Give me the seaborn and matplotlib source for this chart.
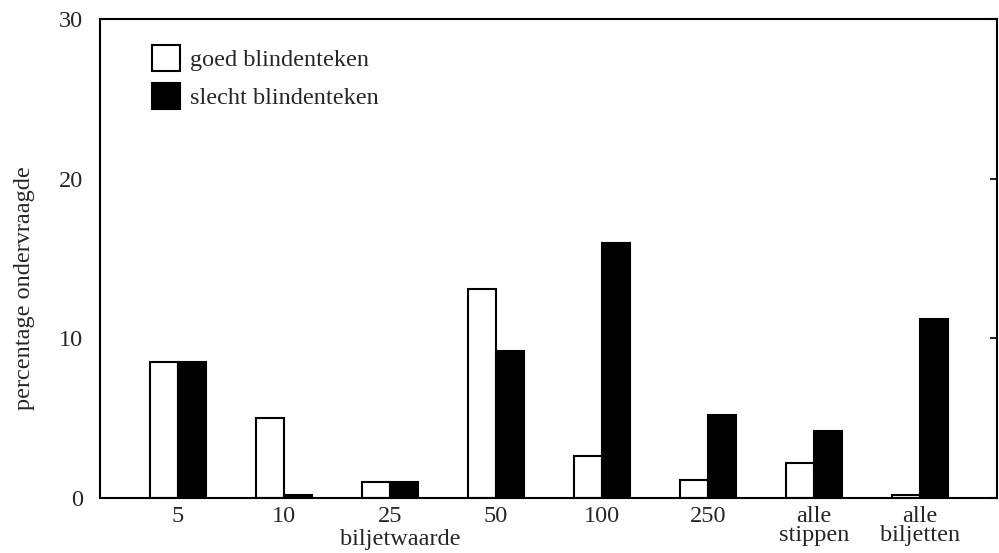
import matplotlib
matplotlib.use('Agg')
import matplotlib.pyplot as plt
import seaborn as sns
import pandas as pd

# values (percentage ondervraagde)
categories = ['5', '10', '25', '50', '100', '250', 'alle\nstippen', 'alle\nbiljetten']
goed = [8.5, 5.0, 1.0, 13.1, 2.6, 1.1, 2.2, 0.2]
slecht = [8.5, 0.2, 1.0, 9.2, 16.0, 5.2, 4.2, 11.2]
series = ['goed blindenteken', 'slecht blindenteken']
y_ticks = [0, 10, 20, 30]

df = pd.DataFrame({
    'waarde': categories * 2,
    'pct': goed + slecht,
    'teken': [series[0]] * len(categories) + [series[1]] * len(categories),
})

sns.set_style('white')
plt.rcParams['font.family'] = ['Liberation Serif', 'DejaVu Serif']
fs = 17.5

fig = plt.figure(figsize=(9.99, 5.53), dpi=100)
ax = fig.add_axes([0.1001, 0.0995, 0.8977, 0.8661])

sns.barplot(data=df, x='waarde', y='pct', hue='teken', order=categories,
            hue_order=series, palette=['white', 'black'], saturation=1,
            edgecolor='black', linewidth=1.5, width=0.53, ax=ax)

ax.set_xlim(-0.736, 7.726)
ax.set_ylim(0, 30)
ax.set_yticks(y_ticks)
ax.tick_params(axis='y', direction='in', length=5, width=1.5, right=True,
               pad=12, labelsize=fs)
ax.tick_params(axis='x', length=0, pad=6, labelsize=fs)
for lbl in ax.get_xticklabels():
    lbl.set_linespacing(0.85)

for sp in ax.spines.values():
    sp.set_visible(True)
    sp.set_linewidth(1.5)
    sp.set_color('black')

ax.set_xlabel('biljetwaarde', fontsize=fs)
ax.xaxis.set_label_coords(0.335, -0.064)
ax.set_ylabel('percentage ondervraagde', fontsize=fs)
ax.yaxis.set_label_coords(-0.073, 0.438)

handles, labels = ax.get_legend_handles_labels()
ax.legend(handles, labels, loc='upper left', bbox_to_anchor=(0.058, 0.946),
          frameon=False, borderpad=0, borderaxespad=0, handlelength=1.15,
          handleheight=1.25, handletextpad=0.4, labelspacing=0.5, fontsize=fs)

fig.savefig('out.png', dpi=100)
